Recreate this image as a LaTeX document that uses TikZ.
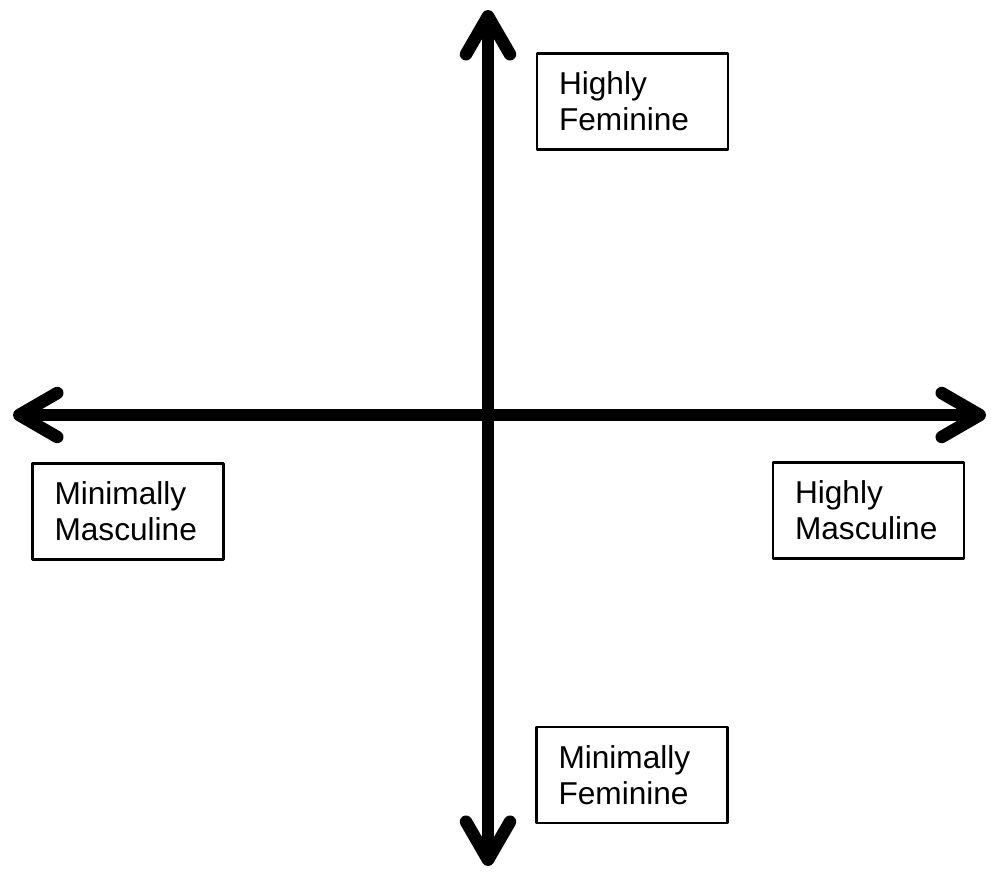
\documentclass[tikz,border=0pt]{standalone}
\usepackage{fontspec}
\setmainfont{Liberation Sans}
\usepackage{tikz}
\usetikzlibrary{arrows.meta}
\definecolor{qdInk}{HTML}{000000}
\tikzset{
  qd diagram/.style={font=\fontsize{18}{20.5}\selectfont, text=qdInk,
    line cap=round, line join=round},
  qd box/.style={draw=qdInk, fill=white, line width=1.2pt,
    minimum width=3.82cm, minimum height=1.92cm, inner xsep=0.44cm,
    text width=2.94cm, align=left},
  QdBarb/.tip={Straight Barb[length=0.76cm,width=0.88cm,line cap=round,line join=round]},
  qd axis/.style={QdBarb-QdBarb, draw=qdInk, line width=0.25cm}
}
\begin{document}
\begin{tikzpicture}[qd diagram,x=0.02cm,y=-0.02cm]
\useasboundingbox (0,0) rectangle (991,872);
\coordinate (west) at (13,415);
\coordinate (east) at (986,415);
\coordinate (north) at (488,10);
\coordinate (south) at (488,866);
\draw[qd axis] (west) -- (east);
\draw[qd axis] (south) -- (north);
\node[qd box] (highfem) at (632.5,101.5) {Highly\\Feminine};
\node[qd box] (minmasc) at (128,511.5) {Minimally\\Masculine};
\node[qd box] (highmasc) at (868.5,510.5) {Highly\\Masculine};
\node[qd box] (minfem) at (632,775) {Minimally\\Feminine};
\end{tikzpicture}
\end{document}
